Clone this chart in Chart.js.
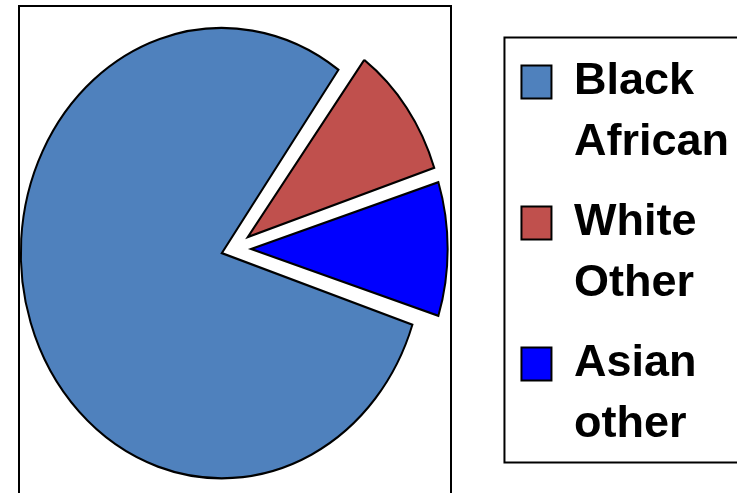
<!DOCTYPE html>
<html>
<head>
<meta charset="utf-8">
<script src="https://cdn.jsdelivr.net/npm/chart.js@4"></script>
<style>
  html, body { margin: 0; padding: 0; background: #fff; overflow: hidden; }
  #wrap { width: 737px; height: 493px; }
</style>
</head>
<body>
<div id="wrap"><canvas id="pieChart" width="737" height="493"></canvas></div>
<script>
const categories = ["Black African", "White Other", "Asian other"];
const shares = [80, 10, 10];
const sliceColors = ["#4F81BD", "#C0504D", "#0000FF"];
// chart.js moves an arc by offset / 4
const explode = [48, 72, 72];

// excel squashed the pie into an ellipse, so stretch it a bit vertically
const stretchY = 1.12;
// pie sits a bit left of the middle of its chart area
const shiftX = -18;

const ellipsePie = {
  id: "ellipsePie",
  beforeDatasetsDraw(chart) {
    const { ctx, chartArea } = chart;
    const cx = (chartArea.left + chartArea.right) / 2;
    const cy = (chartArea.top + chartArea.bottom) / 2;
    ctx.save();
    ctx.translate(cx + shiftX, cy);
    ctx.scale(1, stretchY);
    ctx.translate(-cx, -cy);
  },
  afterDatasetsDraw(chart) {
    chart.ctx.restore();
  }
};

const frames = {
  id: "frames",
  afterDraw(chart) {
    const { ctx, legend, width } = chart;
    ctx.save();
    ctx.strokeStyle = "#000";
    ctx.lineWidth = 2;
    // plot area frame
    ctx.strokeRect(19, 6, 432, 500);
    // legend frame
    const boxes = legend.legendHitBoxes;
    const first = boxes[0];
    const last = boxes[boxes.length - 1];
    const top = first.top - 22;
    const bottom = last.top + last.height - 1;
    ctx.strokeRect(legend.left + 2, top, width + 10 - legend.left, bottom - top);
    ctx.restore();
  }
};

new Chart(document.getElementById("pieChart"), {
  type: "pie",
  data: {
    labels: categories,
    datasets: [{
      data: shares,
      backgroundColor: sliceColors,
      borderColor: "#000",
      borderWidth: 2,
      borderJoinStyle: "miter",
      offset: explode,
      clip: false
    }]
  },
  options: {
    responsive: false,
    animation: false,
    rotation: 108,
    radius: 189,
    layout: {
      padding: { left: 0, right: -2, top: 5, bottom: 0 }
    },
    plugins: {
      tooltip: { enabled: false },
      legend: {
        display: true,
        position: "right",
        align: "start",
        title: {
          display: true,
          text: "",
          padding: 0,
          font: { size: 35.5, lineHeight: 1 }
        },
        labels: {
          color: "#000",
          boxWidth: 30,
          boxHeight: 33,
          padding: 19,
          font: { family: "'Liberation Sans', Arial, sans-serif", size: 45, weight: "bold", lineHeight: 61 / 45 },
          generateLabels(chart) {
            const ds = chart.data.datasets[0];
            return chart.data.labels.map((label, i) => ({
              text: label.split(" "),
              fillStyle: ds.backgroundColor[i],
              strokeStyle: "#000",
              lineWidth: 2,
              fontColor: "#000",
              hidden: false,
              index: i
            }));
          }
        }
      }
    }
  },
  plugins: [ellipsePie, frames]
});
</script>
</body>
</html>
